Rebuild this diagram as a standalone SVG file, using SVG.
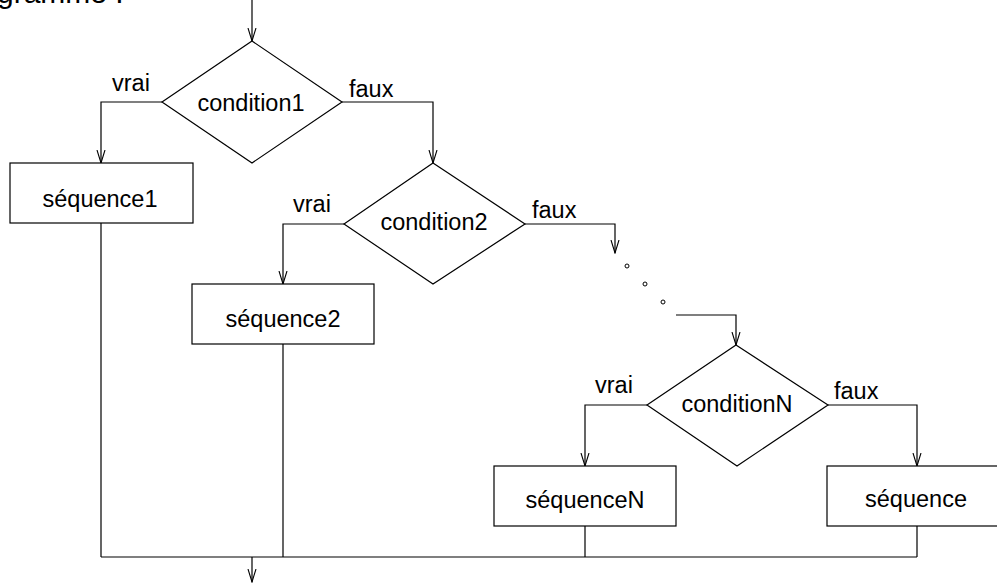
<svg xmlns="http://www.w3.org/2000/svg" width="997" height="583" viewBox="0 0 997 583">
<style>
text{font-family:"Liberation Sans",Arial,sans-serif;font-size:23.5px;fill:#000}
.c{text-anchor:middle}
.shape{fill:#fff;stroke:#000;stroke-width:1.2}
.ln{fill:none;stroke:#000;stroke-width:1.2}
.dot{fill:#fff;stroke:#000;stroke-width:1}
</style>
<defs>
<marker id="arr" markerWidth="14" markerHeight="10" refX="13" refY="5" orient="auto" markerUnits="userSpaceOnUse">
<path d="M0,1 L13,5 L0,9" fill="none" stroke="#000" stroke-width="1.1"/>
</marker>
</defs>
<text x="-3" y="3" style="font-size:30px">gramme :</text>
<g id="connectors">
<path class="ln" d="M252,0 V41" marker-end="url(#arr)"/>
<path class="ln" d="M162,102 H101 V163" marker-end="url(#arr)"/>
<path class="ln" d="M342,102 H433 V163" marker-end="url(#arr)"/>
<path class="ln" d="M344,224 H283 V284" marker-end="url(#arr)"/>
<path class="ln" d="M525,224 H615 V253" marker-end="url(#arr)"/>
<path class="ln" d="M676,315 H736 V345" marker-end="url(#arr)"/>
<path class="ln" d="M647,405 H585 V466" marker-end="url(#arr)"/>
<path class="ln" d="M828,405 H917 V466" marker-end="url(#arr)"/>
<path class="ln" d="M101,223 V557 M283,344 V557 M585,526 V557 M917,526 V557 M101,557 H917"/>
<path class="ln" d="M252,557 V582" marker-end="url(#arr)"/>
<circle class="dot" cx="627" cy="266" r="2"/>
<circle class="dot" cx="645" cy="284" r="2"/>
<circle class="dot" cx="663" cy="302" r="2"/>
<text x="112" y="91">vrai</text>
<text x="349" y="97">faux</text>
<text x="293" y="212">vrai</text>
<text x="532" y="218">faux</text>
<text x="595" y="393">vrai</text>
<text x="834" y="399">faux</text>
</g>
<g id="condition1">
<polygon class="shape" points="252,41 342,102 252,163 162,102"/>
<text class="c" x="251" y="111">condition1</text>
</g>
<g id="sequence1">
<rect class="shape" x="10" y="163" width="183" height="60"/>
<text class="c" x="100" y="207">séquence1</text>
</g>
<g id="condition2">
<polygon class="shape" points="433,163 525,224 433,284 344,224"/>
<text class="c" x="434" y="230">condition2</text>
</g>
<g id="sequence2">
<rect class="shape" x="192" y="284" width="182" height="60"/>
<text class="c" x="283" y="327">séquence2</text>
</g>
<g id="conditionN">
<polygon class="shape" points="736,345 828,405 737,466 647,405"/>
<text class="c" x="737" y="412">conditionN</text>
</g>
<g id="sequenceN">
<rect class="shape" x="494" y="466" width="182" height="60"/>
<text class="c" x="585" y="508">séquenceN</text>
</g>
<g id="sequence">
<rect class="shape" x="827" y="466" width="182" height="60"/>
<text class="c" x="916" y="507">séquence</text>
</g>
</svg>
